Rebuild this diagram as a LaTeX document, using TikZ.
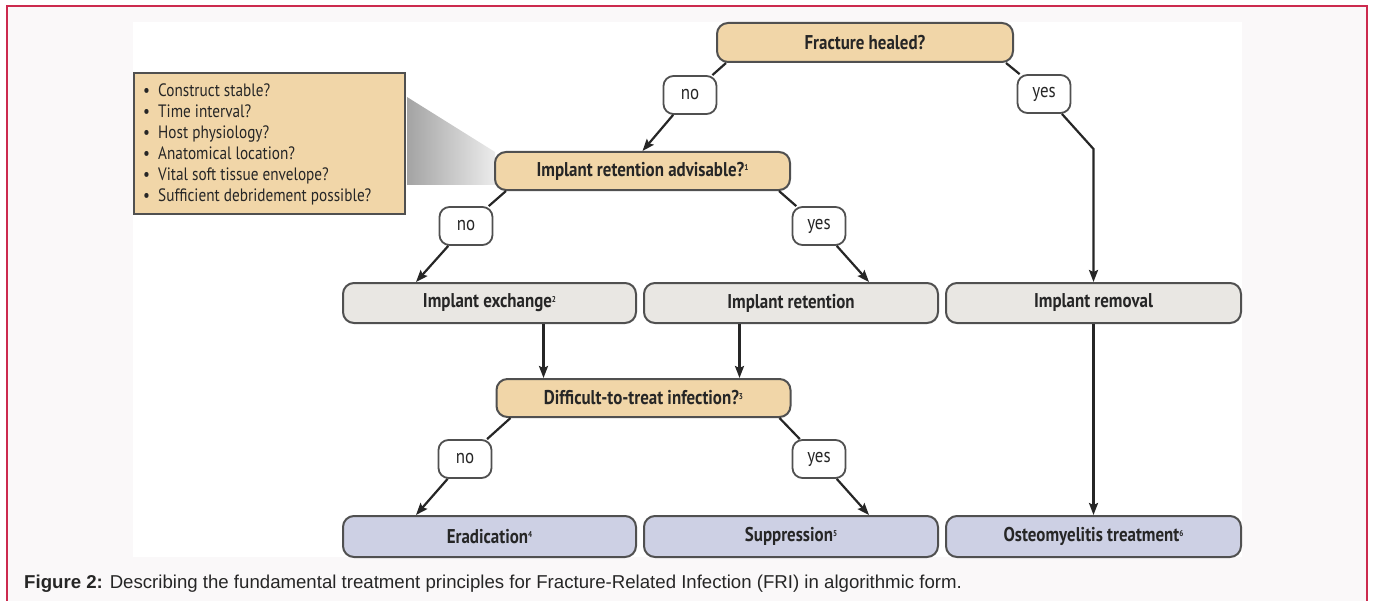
\documentclass[tikz,border=0pt]{standalone}
\usepackage{fontspec}
\setmainfont{Liberation Sans}
\newfontfamily\nodefont[FakeStretch=0.85]{PT Sans}
\usetikzlibrary{arrows.meta,calc}
\definecolor{framecol}{HTML}{CC2A4E}
\definecolor{bgpage}{HTML}{FAF8F9}
\definecolor{tanfill}{HTML}{F1D6A8}
\definecolor{grbox}{HTML}{E9E7E3}
\definecolor{blbox}{HTML}{CDD0E4}
\definecolor{edgecol}{HTML}{505050}
\definecolor{ink}{HTML}{262626}
\newcommand{\fnmark}[1]{\raisebox{5.5bp}{\fontsize{8.5}{9}\selectfont #1}}
\tikzset{
  box/.style={rounded corners=11bp, draw=edgecol, line width=2bp, minimum height=39bp, inner sep=0pt,
    font=\nodefont\bfseries\fontsize{20}{22}\selectfont, text=ink},
  qbox/.style={box, fill=tanfill, minimum width=295bp},
  actbox/.style={box, fill=grbox, minimum width=293bp, minimum height=40bp},
  resbox/.style={box, fill=blbox, minimum width=294bp, minimum height=41bp},
  lbl/.style={rounded corners=10bp, draw=edgecol, line width=1.8bp, fill=white, minimum width=53bp,
    minimum height=38bp, inner sep=0pt, font=\nodefont\fontsize{20}{22}\selectfont, text=ink},
  conn/.style={draw=ink, line width=2.2bp},
  arr/.style={conn, -{Stealth[length=12bp,width=9bp,inset=2bp]}},
}
\begin{document}
\begin{tikzpicture}[x=1bp,y=-1bp]
\useasboundingbox (0,0) rectangle (1373,601);
% page background and frame
\fill[white] (0,0) rectangle (1373,601);
\fill[bgpage] (7,6) rectangle (1367,601);
\fill[white] (133,22) rectangle (1242,557);
\draw[framecol, line width=2bp] (7,601) -- (7,6) -- (1367,6) -- (1367,601);

% criteria callout
\node[draw=edgecol, line width=2bp, fill=tanfill, minimum width=271bp, minimum height=141bp,
      inner sep=0pt, anchor=north west] (crit) at (133,72) {};
\shade[left color=gray!72, right color=gray!15]
  ($(crit.north east)+(1,25)$) -- (495,152) -- (495,185) -- ($(crit.north east)+(1,113)$) -- cycle;
\node[anchor=north west, align=left, inner sep=0pt, text=ink,
      font=\nodefont\fontsize{18}{21}\selectfont] (critlist) at (143,84)
  {\textbullet\ \ Construct stable?\\
   \textbullet\ \ Time interval?\\
   \textbullet\ \ Host physiology?\\
   \textbullet\ \ Anatomical location?\\
   \textbullet\ \ Vital soft tissue envelope?\\
   \textbullet\ \ Sufficient debridement possible?};

% main nodes
\node[qbox, minimum width=296bp] (frac) at (865,42.5) {Fracture healed?};
\node[qbox, minimum height=38bp] (ira) at (642.5,171) {Implant retention advisable?\fnmark{1}};
\node[actbox] (exch) at (489.5,303) {Implant exchange\fnmark{2}};
\node[actbox, minimum width=294bp] (ret) at (791,303) {Implant retention};
\node[actbox, minimum width=295bp] (rem) at (1093.5,303) {Implant removal};
\node[qbox, minimum width=294bp, minimum height=38bp] (diff) at (643.5,398) {Difficult-to-treat infection?\fnmark{3}};
\node[resbox, minimum width=293bp] (erad) at (489.5,536.5) {Eradication\fnmark{4}};
\node[resbox] (supp) at (791,536.5) {Suppression\fnmark{5}};
\node[resbox, minimum width=295bp] (osteo) at (1093.5,536.5) {Osteomyelitis treatment\fnmark{6}};

% decision labels
\node[lbl] (no1) at (690,95) {no};
\node[lbl] (yes1) at (1044,94) {yes};
\node[lbl] (no2) at (466,226) {no};
\node[lbl] (yes2) at (819,226) {yes};
\node[lbl] (no3) at (465,459) {no};
\node[lbl] (yes3) at (819,459) {yes};

% connectors
\coordinate (bendr) at ($(rem.north)+(0,-133)$);
\draw[conn] ($(frac.south west)+(10,0)$) -- (no1);
\draw[arr] (no1) -- (ira.north);
\draw[conn] ($(frac.south east)+(-8,0)$) -- (yes1);
\draw[arr] (yes1) -- (bendr) -- (rem.north);

\draw[conn] ($(ira.south west)+(12,0)$) -- (no2);
\draw[arr] (no2) -- ($(exch.north west)+(74,0)$);
\draw[conn] ($(ira.south east)+(-12,0)$) -- (yes2);
\draw[arr] (yes2) -- ($(ret.north east)+(-70,0)$);

\coordinate (dl) at ($(diff.north)+(-100,0)$);
\coordinate (dr) at ($(diff.north)+(96,0)$);
\draw[arr] (exch.south -| dl) -- (dl);
\draw[arr] (ret.south -| dr) -- (dr);

\draw[conn] ($(diff.south west)+(15,0)$) -- (no3);
\draw[arr] (no3) -- ($(erad.north west)+(74,0)$);
\draw[conn] ($(diff.south east)+(-12,0)$) -- (yes3);
\draw[arr] (yes3) -- ($(supp.north east)+(-70,0)$);

\draw[arr] (rem.south) -- (osteo.north);

% caption
\node[anchor=base west, inner sep=0pt, text=ink, font=\fontsize{18.7}{20}\selectfont] (caption) at (24,588)
  {\textbf{Figure 2:} Describing the fundamental treatment principles for Fracture-Related Infection (FRI) in algorithmic form.};
\end{tikzpicture}
\end{document}
